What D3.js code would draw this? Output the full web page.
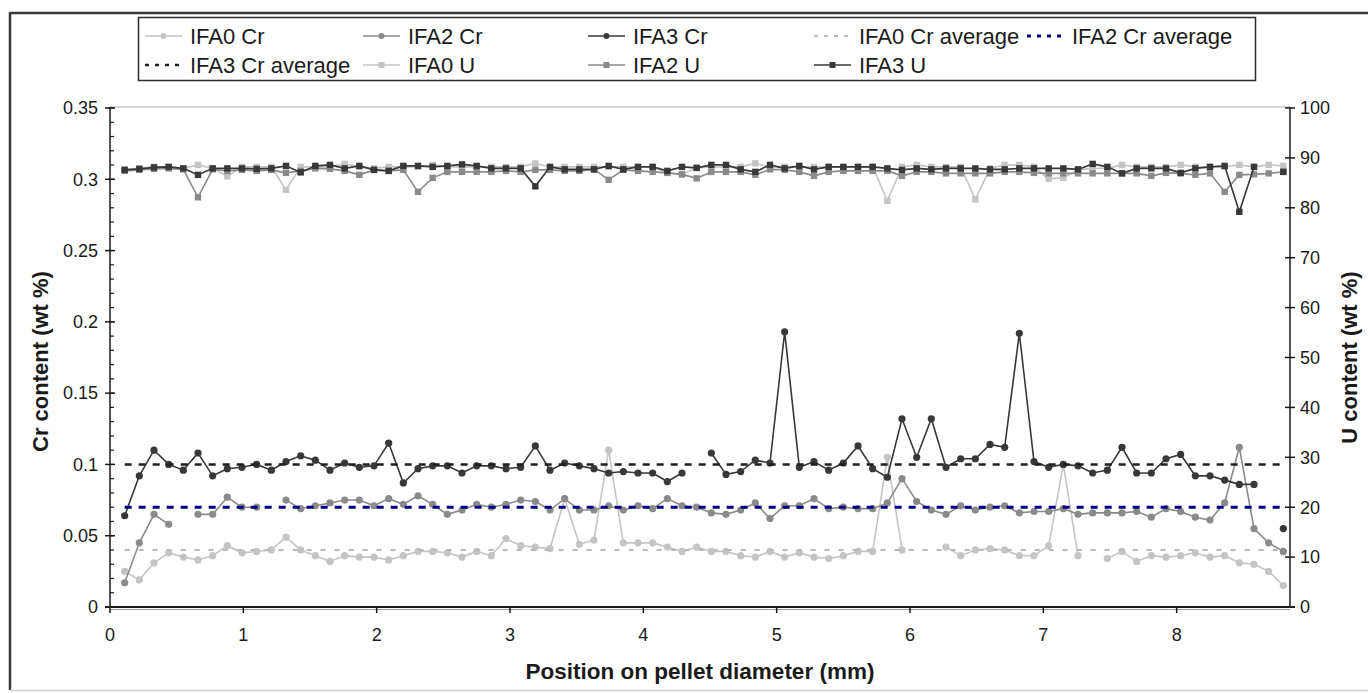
<!DOCTYPE html>
<html>
<head>
<meta charset="utf-8">
<script src="https://cdn.jsdelivr.net/npm/d3@7/dist/d3.min.js"></script>
<style>
  html, body { margin: 0; padding: 0; background: #fff; }
  svg { display: block; font-family: "Liberation Sans", Arial, sans-serif; }
</style>
</head>
<body>
<svg id="chart" width="1368" height="693"></svg>
<script>
// Measurement positions along the pellet diameter (mm)
const positions = [
  0.11, 0.22, 0.33, 0.44, 0.55, 0.66, 0.77, 0.88, 0.99, 1.10,
  1.21, 1.32, 1.43, 1.54, 1.65, 1.76, 1.87, 1.98, 2.09, 2.20,
  2.31, 2.42, 2.53, 2.64, 2.75, 2.86, 2.97, 3.08, 3.19, 3.30,
  3.41, 3.52, 3.63, 3.74, 3.85, 3.96, 4.07, 4.18, 4.29, 4.40,
  4.51, 4.62, 4.73, 4.84, 4.95, 5.06, 5.17, 5.28, 5.39, 5.50,
  5.61, 5.72, 5.83, 5.94, 6.05, 6.16, 6.27, 6.38, 6.49, 6.60,
  6.71, 6.82, 6.93, 7.04, 7.15, 7.26, 7.37, 7.48, 7.59, 7.70,
  7.81, 7.92, 8.03, 8.14, 8.25, 8.36, 8.47, 8.58, 8.69, 8.80
];

// Cr content (wt %), null = no measurement
const ifa0Cr = [
  0.025, 0.019, 0.031, 0.038, 0.035, 0.033, 0.036, 0.043, 0.038, 0.039,
  0.040, 0.049, 0.040, 0.036, 0.032, 0.036, 0.035, 0.035, 0.033, 0.036,
  0.039, 0.039, 0.038, 0.035, 0.039, 0.036, 0.048, 0.043, 0.042, 0.041,
  0.076, 0.044, 0.047, 0.110, 0.045, 0.045, 0.045, 0.042, 0.039, 0.042,
  0.039, 0.039, 0.036, 0.035, 0.039, 0.035, 0.038, 0.035, 0.034, 0.036,
  0.039, 0.039, 0.105, 0.040, null, null, 0.042, 0.036, 0.040, 0.041,
  0.040, 0.036, 0.036, 0.043, 0.100, 0.036, null, 0.034, 0.039, 0.032,
  0.036, 0.035, 0.036, 0.038, 0.035, 0.036, 0.031, 0.030, 0.025, 0.015
];
const ifa2Cr = [
  0.017, 0.045, 0.065, 0.058, null, 0.065, 0.065, 0.077, 0.070, 0.070,
  null, 0.075, 0.069, 0.071, 0.073, 0.075, 0.075, 0.071, 0.076, 0.072,
  0.078, 0.072, 0.065, 0.068, 0.072, 0.070, 0.072, 0.075, 0.074, 0.068,
  0.076, 0.068, 0.068, 0.071, 0.068, 0.071, 0.069, 0.076, 0.071, 0.070,
  0.066, 0.065, 0.068, 0.073, 0.062, 0.071, 0.071, 0.076, 0.069, 0.070,
  0.069, 0.069, 0.073, 0.090, 0.074, 0.068, 0.065, 0.071, 0.068, 0.070,
  0.071, 0.066, 0.067, 0.067, 0.069, 0.065, 0.066, 0.066, 0.066, 0.067,
  0.063, 0.069, 0.067, 0.063, 0.061, 0.073, 0.112, 0.055, 0.045, 0.039
];
const ifa3Cr = [
  0.064, 0.092, 0.110, 0.100, 0.096, 0.108, 0.092, 0.097, 0.098, 0.100,
  0.096, 0.102, 0.106, 0.103, 0.096, 0.101, 0.098, 0.099, 0.115, 0.087,
  0.097, 0.099, 0.099, 0.094, 0.099, 0.099, 0.097, 0.098, 0.113, 0.096,
  0.101, 0.099, 0.097, 0.094, 0.095, 0.094, 0.094, 0.088, 0.094, null,
  0.108, 0.093, 0.095, 0.103, 0.101, 0.193, 0.098, 0.102, 0.096, 0.101,
  0.113, 0.097, 0.091, 0.132, 0.105, 0.132, 0.098, 0.104, 0.104, 0.114,
  0.112, 0.192, 0.102, 0.098, 0.100, 0.099, 0.094, 0.096, 0.112, 0.094,
  0.094, 0.104, 0.107, 0.092, 0.092, 0.089, 0.086, 0.086, null, 0.055
];

// Average Cr content per pellet (wt %)
const crAverages = { ifa0: 0.04, ifa2: 0.07, ifa3: 0.10 };

// U content (wt %)
const ifa0U = [
  87.7, 87.9, 88.2, 88.2, 87.9, 88.6, 87.9, 86.3, 88.2, 88.2,
  88.2, 83.6, 88.2, 88.2, 88.2, 88.8, 88.2, 87.9, 88.2, 88.2,
  88.2, 88.6, 88.2, 88.2, 88.2, 88.2, 88.2, 88.2, 88.9, 88.2,
  88.2, 88.2, 88.2, 88.2, 88.2, 88.2, 88.2, 87.0, 86.7, 88.0,
  88.2, 88.2, 88.2, 88.9, 88.2, 88.2, 88.2, 88.2, 88.2, 88.2,
  88.2, 88.2, 81.4, 88.2, 88.6, 88.2, 88.2, 88.2, 81.7, 87.9,
  88.6, 88.6, 88.2, 85.8, 86.0, 87.6, 87.9, 87.9, 88.6, 88.2,
  88.2, 88.2, 88.6, 88.2, 88.2, 88.2, 88.6, 88.2, 88.6, 88.4
];
const ifa2U = [
  87.4, 87.6, 87.8, 87.9, 87.7, 82.1, 87.7, 87.4, 87.6, 87.4,
  87.6, 87.0, 87.4, 87.9, 87.8, 87.4, 86.6, 87.6, 87.4, 87.6,
  83.2, 86.0, 87.2, 87.2, 87.2, 87.2, 87.4, 87.2, 87.6, 87.6,
  87.4, 87.4, 87.7, 85.6, 87.6, 87.4, 87.2, 87.0, 86.7, 85.9,
  87.2, 87.2, 87.2, 86.6, 87.7, 87.6, 87.2, 86.4, 87.2, 87.4,
  87.4, 87.4, 87.4, 86.4, 87.2, 87.2, 86.9, 86.9, 86.9, 86.9,
  87.2, 87.2, 87.0, 86.9, 86.9, 86.9, 86.9, 86.9, 86.9, 86.9,
  86.4, 87.0, 86.9, 86.6, 86.9, 83.2, 86.6, 86.7, 86.9, 87.2
];
const ifa3U = [
  87.6, 87.8, 88.1, 88.2, 87.9, 86.6, 87.9, 87.9, 87.9, 87.8,
  87.9, 88.4, 87.1, 88.4, 88.6, 87.9, 88.4, 87.6, 87.4, 88.4,
  88.4, 88.2, 88.4, 88.7, 88.4, 87.9, 87.9, 87.9, 84.3, 88.2,
  87.7, 87.7, 87.7, 88.4, 87.7, 88.2, 88.2, 87.4, 88.2, 88.0,
  88.6, 88.6, 87.7, 87.2, 88.6, 87.9, 88.4, 87.7, 88.2, 88.2,
  88.2, 88.2, 87.9, 87.6, 87.9, 87.7, 87.9, 87.9, 87.9, 87.7,
  87.7, 87.9, 87.9, 87.9, 87.9, 87.7, 88.8, 88.2, 86.9, 87.9,
  87.9, 87.9, 87.0, 87.9, 88.2, 88.4, 79.2, 88.2, null, 87.2
];

const xTicks = [0, 1, 2, 3, 4, 5, 6, 7, 8];
const crTicks = [0, 0.05, 0.1, 0.15, 0.2, 0.25, 0.3, 0.35];
const crMinorTicks = d3.range(0, 0.3501, 0.01);
const uTicks = [0, 10, 20, 30, 40, 50, 60, 70, 80, 90, 100];

const colors = {
  light: "#c4c4c4",
  mid: "#8a8a8a",
  dark: "#383838",
  navy: "#000080",
  avgLight: "#b9b9b9",
  avgDark: "#1e1e1e",
  text: "#1a1a1a"
};

const svg = d3.select("#chart");
const plot = { left: 110, right: 1290, top: 108, bottom: 607 };

const x = d3.scaleLinear().domain([0, 8.85]).range([plot.left, plot.right]);
const yCr = d3.scaleLinear().domain([0, 0.35]).range([plot.bottom, plot.top]);
const yU = d3.scaleLinear().domain([0, 100]).range([plot.bottom, plot.top]);

// Figure frame
svg.append("line").attr("x1", 10).attr("x2", 1368).attr("y1", 13).attr("y2", 13)
  .attr("stroke", "#3a3a3a").attr("stroke-width", 2.5);
svg.append("line").attr("x1", 10).attr("x2", 10).attr("y1", 12).attr("y2", 690)
  .attr("stroke", "#3a3a3a").attr("stroke-width", 2.5);
svg.append("line").attr("x1", 10).attr("x2", 1368).attr("y1", 690.5).attr("y2", 690.5)
  .attr("stroke", "#d0d0d0").attr("stroke-width", 1.5);

// Plot area top border
svg.append("line").attr("x1", plot.left).attr("x2", plot.right)
  .attr("y1", plot.top - 1).attr("y2", plot.top - 1)
  .attr("stroke", "#b0b0b0").attr("stroke-width", 1);

// Series definitions
const crSeries = [
  { name: "IFA0 Cr", values: ifa0Cr, color: colors.light },
  { name: "IFA2 Cr", values: ifa2Cr, color: colors.mid },
  { name: "IFA3 Cr", values: ifa3Cr, color: colors.dark }
];
const avgSeries = [
  { name: "IFA0 Cr average", value: crAverages.ifa0, color: colors.avgLight, width: 2, dash: "5,9" },
  { name: "IFA2 Cr average", value: crAverages.ifa2, color: colors.navy, width: 3, dash: "7,7" },
  { name: "IFA3 Cr average", value: crAverages.ifa3, color: colors.avgDark, width: 2.5, dash: "7,7" }
];
const uSeries = [
  { name: "IFA0 U", values: ifa0U, color: colors.light },
  { name: "IFA2 U", values: ifa2U, color: colors.mid },
  { name: "IFA3 U", values: ifa3U, color: colors.dark }
];

function pointsOf(values) {
  return values.map((v, i) => ({ x: positions[i], v }));
}

const g = svg.append("g");

// Cr profiles with round markers
crSeries.forEach(s => {
  const pts = pointsOf(s.values);
  const line = d3.line().defined(d => d.v !== null).x(d => x(d.x)).y(d => yCr(d.v));
  g.append("path").datum(pts).attr("d", line)
    .attr("fill", "none").attr("stroke", s.color).attr("stroke-width", 1.6);
  g.selectAll(null).data(pts.filter(d => d.v !== null)).join("circle")
    .attr("cx", d => x(d.x)).attr("cy", d => yCr(d.v)).attr("r", 3.6)
    .attr("fill", s.color);
});

// Average Cr levels
avgSeries.forEach(s => {
  g.append("line")
    .attr("x1", x(positions[0])).attr("x2", x(positions[positions.length - 1]))
    .attr("y1", yCr(s.value)).attr("y2", yCr(s.value))
    .attr("stroke", s.color).attr("stroke-width", s.width)
    .attr("stroke-dasharray", s.dash);
});

// U profiles with square markers
uSeries.forEach(s => {
  const pts = pointsOf(s.values);
  const line = d3.line().defined(d => d.v !== null).x(d => x(d.x)).y(d => yU(d.v));
  g.append("path").datum(pts).attr("d", line)
    .attr("fill", "none").attr("stroke", s.color).attr("stroke-width", 1.6);
  g.selectAll(null).data(pts.filter(d => d.v !== null)).join("rect")
    .attr("x", d => x(d.x) - 3.2).attr("y", d => yU(d.v) - 3.2)
    .attr("width", 6.4).attr("height", 6.4)
    .attr("fill", s.color);
});

// Axes
const axisColor = "#1a1a1a";
const fontTick = 18;

// Left (Cr) axis
const left = svg.append("g").attr("transform", `translate(${plot.left},0)`);
left.append("line").attr("y1", plot.top - 1).attr("y2", plot.bottom)
  .attr("stroke", axisColor).attr("stroke-width", 1.5);
left.selectAll(".minor").data(crMinorTicks).join("line")
  .attr("x1", 0).attr("x2", 4).attr("y1", d => yCr(d)).attr("y2", d => yCr(d))
  .attr("stroke", axisColor).attr("stroke-width", 1.2);
left.selectAll(".major").data(crTicks).join("line")
  .attr("x1", -5).attr("x2", 5).attr("y1", d => yCr(d)).attr("y2", d => yCr(d))
  .attr("stroke", axisColor).attr("stroke-width", 1.5);
left.selectAll(".lbl").data(crTicks).join("text")
  .attr("x", -12).attr("y", d => yCr(d)).attr("dy", "0.35em")
  .attr("text-anchor", "end").attr("font-size", fontTick).attr("fill", colors.text)
  .text(d => d3.format("")(+d.toFixed(2)));

// Right (U) axis
const right = svg.append("g").attr("transform", `translate(${plot.right},0)`);
right.append("line").attr("y1", plot.top - 1).attr("y2", plot.bottom)
  .attr("stroke", axisColor).attr("stroke-width", 1.5);
right.selectAll(".major").data(uTicks).join("line")
  .attr("x1", -5).attr("x2", 5).attr("y1", d => yU(d)).attr("y2", d => yU(d))
  .attr("stroke", axisColor).attr("stroke-width", 1.5);
right.selectAll(".lbl").data(uTicks).join("text")
  .attr("x", 10).attr("y", d => yU(d)).attr("dy", "0.35em")
  .attr("text-anchor", "start").attr("font-size", fontTick).attr("fill", colors.text)
  .text(d => d);

// Bottom (position) axis
const bottom = svg.append("g").attr("transform", `translate(0,${plot.bottom})`);
bottom.append("line").attr("x1", plot.left - 5).attr("x2", plot.right + 5)
  .attr("stroke", axisColor).attr("stroke-width", 2.2);
bottom.append("line").attr("x1", plot.left).attr("x2", plot.right)
  .attr("y1", 2.5).attr("y2", 2.5)
  .attr("stroke", "#9a9a9a").attr("stroke-width", 1);
bottom.selectAll(".major").data(xTicks).join("line")
  .attr("x1", d => x(d)).attr("x2", d => x(d)).attr("y1", 0).attr("y2", 6)
  .attr("stroke", axisColor).attr("stroke-width", 1.5);
bottom.selectAll(".lbl").data(xTicks).join("text")
  .attr("x", d => x(d)).attr("y", 28).attr("dy", "0.35em")
  .attr("text-anchor", "middle").attr("font-size", fontTick).attr("fill", colors.text)
  .text(d => d);

// Axis titles
svg.append("text")
  .attr("transform", `translate(48,${(plot.top + plot.bottom) / 2 + 4}) rotate(-90)`)
  .attr("text-anchor", "middle").attr("font-size", 22).attr("font-weight", "bold")
  .attr("fill", colors.text).text("Cr content (wt %)");
svg.append("text")
  .attr("transform", `translate(1357,${(plot.top + plot.bottom) / 2}) rotate(-90)`)
  .attr("text-anchor", "middle").attr("font-size", 22).attr("font-weight", "bold")
  .attr("fill", colors.text).text("U content (wt %)");
svg.append("text")
  .attr("x", (plot.left + plot.right) / 2).attr("y", 679)
  .attr("text-anchor", "middle").attr("font-size", 22.5).attr("font-weight", "bold")
  .attr("fill", colors.text).text("Position on pellet diameter (mm)");

// Legend
const legend = svg.append("g");
legend.append("rect").attr("x", 138.5).attr("y", 17.5).attr("width", 1117).attr("height", 63)
  .attr("fill", "#fff").attr("stroke", "#2a2a2a").attr("stroke-width", 1.5);

const legendItems = [
  { label: "IFA0 Cr", color: colors.light, kind: "circle", col: 0, row: 0 },
  { label: "IFA2 Cr", color: colors.mid, kind: "circle", col: 1, row: 0 },
  { label: "IFA3 Cr", color: colors.dark, kind: "circle", col: 2, row: 0 },
  { label: "IFA0 Cr average", color: colors.avgLight, kind: "dash", width: 2, dash: "4,6", col: 3, row: 0 },
  { label: "IFA2 Cr average", color: colors.navy, kind: "dash", width: 3, dash: "4,6", col: 4, row: 0 },
  { label: "IFA3 Cr average", color: colors.avgDark, kind: "dash", width: 2.5, dash: "4,6", col: 0, row: 1 },
  { label: "IFA0 U", color: colors.light, kind: "square", col: 1, row: 1 },
  { label: "IFA2 U", color: colors.mid, kind: "square", col: 2, row: 1 },
  { label: "IFA3 U", color: colors.dark, kind: "square", col: 3, row: 1 }
];
const legendTextX = [190, 408, 633, 859, 1072];
const legendRowY = [36, 65];

legendItems.forEach(it => {
  const tx = legendTextX[it.col];
  const ty = legendRowY[it.row];
  const x1 = tx - 45, x2 = tx - 8, xm = (x1 + x2) / 2;
  const ln = legend.append("line").attr("x1", x1).attr("x2", x2).attr("y1", ty).attr("y2", ty)
    .attr("stroke", it.color);
  if (it.kind === "dash") {
    ln.attr("stroke-width", it.width).attr("stroke-dasharray", it.dash);
  } else {
    ln.attr("stroke-width", 1.6);
    if (it.kind === "circle") {
      legend.append("circle").attr("cx", xm).attr("cy", ty).attr("r", 3).attr("fill", it.color);
    } else {
      legend.append("rect").attr("x", xm - 3).attr("y", ty - 3).attr("width", 6).attr("height", 6)
        .attr("fill", it.color);
    }
  }
  legend.append("text").attr("x", tx).attr("y", ty).attr("dy", "0.35em")
    .attr("font-size", 22).attr("fill", colors.text).text(it.label);
});
</script>
</body>
</html>
